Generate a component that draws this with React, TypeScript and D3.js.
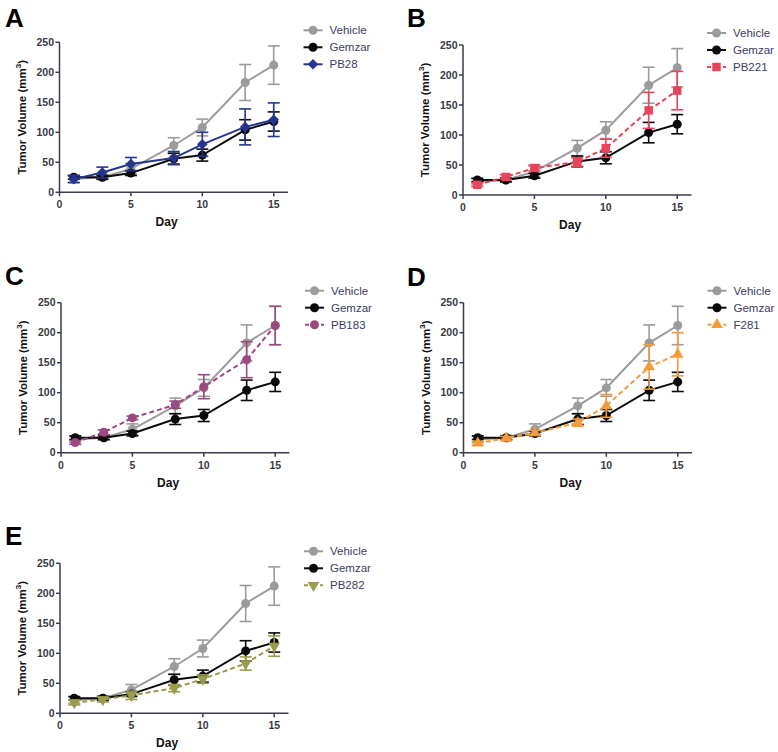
import React from "react";
import * as d3 from "d3";

// days measured
const days = [1, 3, 5, 8, 10, 13, 15];

// shared control groups
const vehicleMean = [22, 25, 39, 78, 108, 183, 212];
const vehicleErr = [5, 4, 9, 13, 14, 30, 32];
const gemzarMean = [25, 25, 32, 56, 62, 104, 118];
const gemzarErr = [3, 3, 4, 9, 10, 17, 16];

// compounds, one per panel
const pb28Mean = [22, 33, 47, 57, 80, 109, 121];
const pb28Err = [6, 9, 11, 11, 20, 30, 28];
const pb221Mean = [17, 30, 45, 55, 78, 141, 174];
const pb221Err = [3, 4, 5, 7, 15, 30, 32];
const pb183Mean = [17, 34, 58, 80, 110, 155, 212];
const pb183Err = [3, 4, 3, 6, 20, 30, 32];
const f281Mean = [16, 24, 33, 50, 78, 143, 164];
const f281Err = [3, 3, 4, 6, 19, 37, 36];
const pb282Mean = [18, 23, 30, 42, 57, 83, 112];
const pb282Err = [4, 4, 7, 6, 7, 11, 17];

const yTicks = [0, 50, 100, 150, 200, 250];
const xTicks = [0, 5, 10, 15];

const FONT = "Arial, 'Liberation Sans', Helvetica, sans-serif";
const AXIS = "#3b3b4b";

type Series = {
  name: string;
  mean: number[];
  err: number[];
  color: string;
  shape: string;
  dashed: boolean;
};

const vehicle: Series = { name: "Vehicle", mean: vehicleMean, err: vehicleErr, color: "#9b9b9b", shape: "circle", dashed: false };
const gemzar: Series = { name: "Gemzar", mean: gemzarMean, err: gemzarErr, color: "#0a0a0a", shape: "circle", dashed: false };

const panels = [
  { letter: "A", x0: 59.5, y0: 192.3, lx: 5, ly: 27, drug: { name: "PB28", mean: pb28Mean, err: pb28Err, color: "#27348f", shape: "diamond", dashed: false } },
  { letter: "B", x0: 463, y0: 195, lx: 407, ly: 27, drug: { name: "PB221", mean: pb221Mean, err: pb221Err, color: "#e8455d", shape: "square", dashed: true } },
  { letter: "C", x0: 61, y0: 452.7, lx: 5, ly: 285, drug: { name: "PB183", mean: pb183Mean, err: pb183Err, color: "#9a4a80", shape: "circle", dashed: true } },
  { letter: "D", x0: 463.5, y0: 452.7, lx: 407, ly: 286, drug: { name: "F281", mean: f281Mean, err: f281Err, color: "#f39a3c", shape: "triangle", dashed: true } },
  { letter: "E", x0: 60, y0: 713.3, lx: 5, ly: 545, drug: { name: "PB282", mean: pb282Mean, err: pb282Err, color: "#999a4c", shape: "triangleDown", dashed: true } },
];

function symbolPath(shape: string) {
  if (shape === "diamond") return d3.symbol(d3.symbolSquare, 56)()!;
  if (shape === "square") return d3.symbol(d3.symbolSquare, 72)()!;
  if (shape === "triangle" || shape === "triangleDown") return d3.symbol(d3.symbolTriangle, 58)()!;
  return d3.symbol(d3.symbolCircle, 64)()!;
}

function Marker({ s, x, y }: { s: Series; x: number; y: number }) {
  let rot = "";
  if (s.shape === "triangleDown") rot = " rotate(180)";
  if (s.shape === "diamond") rot = " rotate(45)";
  return <path d={symbolPath(s.shape)} transform={`translate(${x},${y})${rot}`} fill={s.color} />;
}

function Panel({ p }: { p: (typeof panels)[number] }) {
  const x = d3.scaleLinear().domain([0, 16]).range([p.x0, p.x0 + 228.5]);
  const y = d3.scaleLinear().domain([0, 250]).range([p.y0, p.y0 - 150]);
  const series: Series[] = [vehicle, gemzar, p.drug];
  const line = d3
    .line<number>()
    .x((_, i) => x(days[i]))
    .y((v) => y(v));
  const lgX = p.x0 + 244;
  const lgY = y(250) - 12;

  return (
    <g>
      <text x={p.lx} y={p.ly} fontFamily={FONT} fontWeight="bold" fontSize={26} fill="#000">
        {p.letter}
      </text>
      {/* axes */}
      <line x1={x(0)} x2={x(16)} y1={y(0)} y2={y(0)} stroke={AXIS} strokeWidth={1.5} />
      <line x1={x(0)} x2={x(0)} y1={y(0)} y2={y(250)} stroke={AXIS} strokeWidth={1.5} />
      {yTicks.map((t) => (
        <g key={"y" + t}>
          <line x1={x(0) - 4} x2={x(0)} y1={y(t)} y2={y(t)} stroke={AXIS} strokeWidth={1.5} />
          <text x={x(0) - 5.5} y={y(t)} dy="0.35em" textAnchor="end" fontFamily={FONT} fontWeight="bold" fontSize={10.5} fill="#3a3a44">
            {t}
          </text>
        </g>
      ))}
      {xTicks.map((t) => (
        <g key={"x" + t}>
          <line x1={x(t)} x2={x(t)} y1={y(0)} y2={y(0) + 4} stroke={AXIS} strokeWidth={1.5} />
          <text x={x(t)} y={y(0) + 16} textAnchor="middle" fontFamily={FONT} fontWeight="bold" fontSize={10.5} fill="#3a3a44">
            {t}
          </text>
        </g>
      ))}
      <text x={x(7.5)} y={y(0) + 34} textAnchor="middle" fontFamily={FONT} fontWeight="bold" fontSize={12} fill="#111">
        Day
      </text>
      <text
        transform={`translate(${p.x0 - 38},${y(125)}) rotate(-90)`}
        textAnchor="middle"
        dy="0.35em"
        fontFamily={FONT}
        fontWeight="bold"
        fontSize={11.5}
        fill="#111"
      >
        Tumor Volume (mm
        <tspan dy="-5" fontSize={8}>3</tspan>
        <tspan dy="5">)</tspan>
      </text>
      {/* data */}
      {series.map((s) => (
        <g key={s.name}>
          <path
            d={line(s.mean)!}
            fill="none"
            stroke={s.color}
            strokeWidth={2}
            strokeDasharray={s.dashed ? "5,3" : undefined}
          />
          {s.mean.map((m, i) => (
            <g key={i} stroke={s.color} strokeWidth={1.6}>
              <line x1={x(days[i])} x2={x(days[i])} y1={y(m - s.err[i])} y2={y(m + s.err[i])} />
              <line x1={x(days[i]) - 6} x2={x(days[i]) + 6} y1={y(m + s.err[i])} y2={y(m + s.err[i])} />
              <line x1={x(days[i]) - 6} x2={x(days[i]) + 6} y1={y(m - s.err[i])} y2={y(m - s.err[i])} />
            </g>
          ))}
          {s.mean.map((m, i) => (
            <Marker key={"m" + i} s={s} x={x(days[i])} y={y(m)} />
          ))}
        </g>
      ))}
      {/* legend */}
      {series.map((s, i) => (
        <g key={"lg" + s.name} transform={`translate(${lgX},${lgY + i * 17})`}>
          <line x1={0} x2={19} y1={0} y2={0} stroke={s.color} strokeWidth={2} strokeDasharray={s.dashed ? "4,4" : undefined} />
          <Marker s={s} x={9.5} y={0} />
          <text x={26} y={0} dy="0.35em" fontFamily={FONT} fontSize={11.5} fill="#3c3c64">
            {s.name}
          </text>
        </g>
      ))}
    </g>
  );
}

export default function App() {
  return (
    <svg width={778} height={752} style={{ position: "absolute", left: 0, top: 0, background: "#fff" }}>
      <rect width={778} height={752} fill="#fff" />
      {panels.map((p) => (
        <Panel key={p.letter} p={p} />
      ))}
    </svg>
  );
}
